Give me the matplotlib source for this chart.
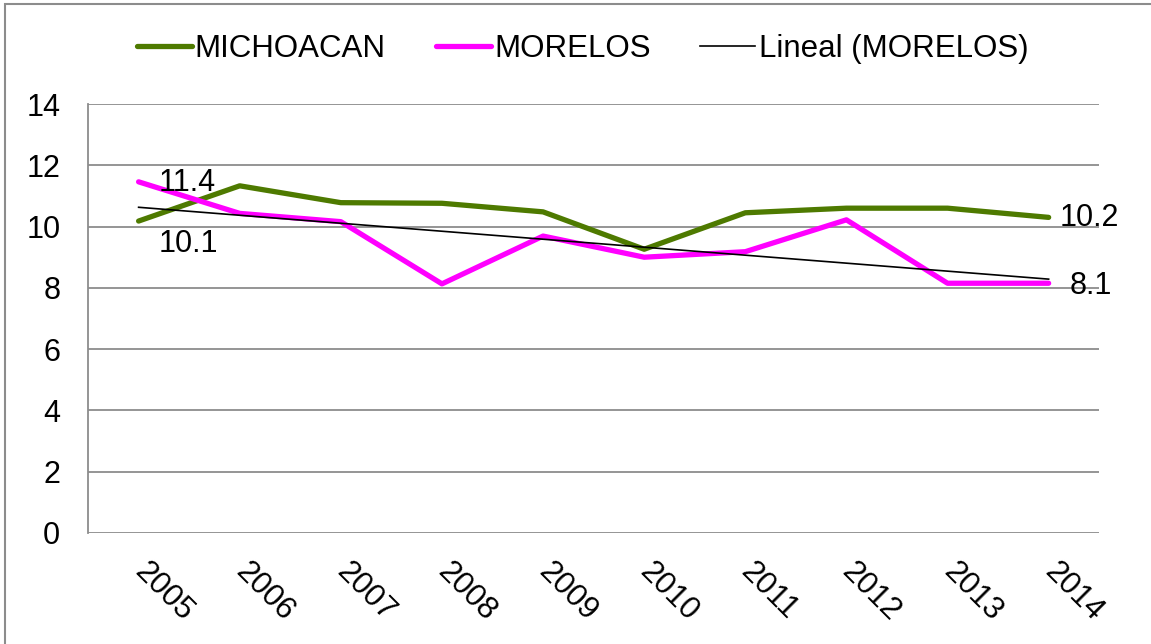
import matplotlib.pyplot as plt
from matplotlib.patches import Rectangle
import numpy as np

plt.rcParams['font.family'] = ['Liberation Sans', 'DejaVu Sans']
plt.rcParams['font.size'] = 22

years = ["2005", "2006", "2007", "2008", "2009", "2010", "2011", "2012", "2013", "2014"]
michoacan = [10.18, 11.33, 10.78, 10.76, 10.48, 9.26, 10.45, 10.6, 10.6, 10.3]
morelos = [11.46, 10.43, 10.16, 8.13, 9.69, 9.0, 9.18, 10.22, 8.15, 8.15]
# labels shown on the chart
mich_labels = ["10.1", "10.2"]
mor_labels = ["11.4", "8.1"]

x = np.arange(len(years))
slope, icpt = np.polyfit(x, morelos, 1)
trend = slope * x + icpt

fig = plt.figure(figsize=(11.51, 6.44), dpi=100)
ax = fig.add_axes([0.0765, 0.1724, 0.8785, 0.6661])

ax.plot(x, michoacan, color="#4E7A00", lw=3.8, label="MICHOACAN", solid_capstyle="round")
ax.plot(x, morelos, color="#FF00FF", lw=3.8, label="MORELOS", solid_capstyle="round")
ax.plot(x, trend, color="black", lw=1.2, label="Lineal (MORELOS)")

ax.set_xlim(-0.5, len(years) - 0.5)
ax.set_ylim(0, 14)
ax.set_yticks(range(0, 15, 2))
ax.set_xticks(x)
ax.set_xticklabels(years, rotation=-45, ha="left", va="center",
                   rotation_mode="anchor", fontsize=22.5)

ax.tick_params(axis="y", length=0, pad=20)
ax.tick_params(axis="x", length=0, pad=25)
ax.grid(axis="y", color="#8C8C8C", lw=1.3)
ax.set_axisbelow(True)
for side in ["top", "right", "bottom"]:
    ax.spines[side].set_visible(False)
ax.spines["left"].set_color("#8C8C8C")
ax.spines["left"].set_linewidth(1.3)

# data labels
ax.annotate(mich_labels[0], (x[0], michoacan[0]), xytext=(20, -23), textcoords="offset pixels",
            ha="left", va="center", fontsize=22)
ax.annotate(mich_labels[1], (x[-1], michoacan[-1]), xytext=(11, -1), textcoords="offset pixels",
            ha="left", va="center", fontsize=22)
ax.annotate(mor_labels[0], (x[0], morelos[0]), xytext=(20, -1), textcoords="offset pixels",
            ha="left", va="center", fontsize=22)
ax.annotate(mor_labels[1], (x[-1], morelos[-1]), xytext=(21, -3), textcoords="offset pixels",
            ha="left", va="center", fontsize=22)

fig.legend(loc="center", bbox_to_anchor=(0.506, 0.924), ncol=3, frameon=False,
           fontsize=22.5, handlelength=1.76, handletextpad=0.1, columnspacing=1.6)

fig.patches.append(Rectangle((0.004, -0.02), 1.02, 1.014, transform=fig.transFigure,
                             fill=False, edgecolor="#8C8C8C", lw=1.5))

fig.savefig("out.png", dpi=100)
